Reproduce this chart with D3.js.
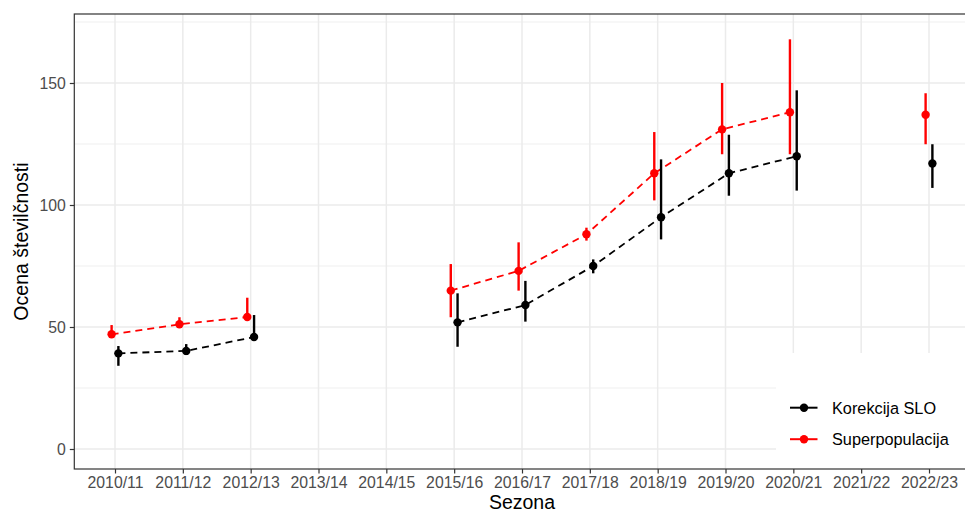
<!DOCTYPE html>
<html>
<head>
<meta charset="utf-8">
<script src="https://cdn.jsdelivr.net/npm/d3@7"></script>
<style>
  html, body { margin: 0; padding: 0; background: #fff; }
  svg { display: block; font-family: "Liberation Sans", Arial, sans-serif; }
</style>
</head>
<body>
<svg id="chart" width="965" height="512"></svg>
<script>
// ---- data ----
const seasons = ["2010/11","2011/12","2012/13","2013/14","2014/15","2015/16","2016/17","2017/18","2018/19","2019/20","2020/21","2021/22","2022/23"];
const seriesNames = ["Korekcija SLO", "Superpopulacija"];
const seriesColors = ["#000000", "#ff0000"];
// Korekcija SLO
const korEst   = [39.2, 40.2, 45.9, null, null, 51.9, 59.0, 75.0, 95.0, 113.0, 120.0, null, 117.0];
const korLow   = [34.1, 38.5, 44.6, null, null, 41.9, 52.2, 72.0, 85.9, 103.8, 105.9, null, 107.0];
const korHigh  = [42.2, 43.0, 54.9, null, null, 63.8, 68.9, 77.7, 118.7, 128.8, 147.0, null, 124.9];
// Superpopulacija
const supEst   = [47.0, 51.1, 54.1, null, null, 64.9, 73.0, 88.0, 113.0, 131.0, 138.0, null, 137.0];
const supLow   = [46.0, 49.8, 53.0, null, null, 54.0, 64.9, 85.4, 101.9, 120.8, 120.8, null, 124.9];
const supHigh  = [50.8, 54.0, 62.0, null, null, 75.8, 84.7, 90.7, 129.9, 150.0, 167.9, null, 145.8];
const yTicks = [0, 50, 100, 150];
const yMinor = [25, 75, 125, 175];

const series = [
  {name: seriesNames[0], color: seriesColors[0], est: korEst, low: korLow, high: korHigh, dodge: 1},
  {name: seriesNames[1], color: seriesColors[1], est: supEst, low: supLow, high: supHigh, dodge: -1}
];

// ---- layout ----
const svg = d3.select("#chart");
const panel = {left: 74.3, right: 969.7, top: 14, bottom: 469};

const x = d3.scalePoint().domain(seasons).range([115, 929]);
const step = x.step();
const dodge = 0.05 * step;
const y = d3.scaleLinear().domain([0, 150]).range([449, 83]);

// panel background
svg.append("rect").attr("x", panel.left).attr("y", panel.top)
  .attr("width", panel.right - panel.left).attr("height", panel.bottom - panel.top)
  .attr("fill", "#fff");

const grid = svg.append("g");
grid.selectAll("line.ymin").data(yMinor).join("line")
  .attr("x1", panel.left).attr("x2", panel.right)
  .attr("y1", d => y(d)).attr("y2", d => y(d))
  .attr("stroke", "#ebebeb").attr("stroke-width", 0.8);
grid.selectAll("line.ymaj").data(yTicks).join("line")
  .attr("x1", panel.left).attr("x2", panel.right)
  .attr("y1", d => y(d)).attr("y2", d => y(d))
  .attr("stroke", "#ebebeb").attr("stroke-width", 1.5);
grid.selectAll("line.xmaj").data(seasons).join("line")
  .attr("x1", d => x(d)).attr("x2", d => x(d))
  .attr("y1", panel.top).attr("y2", panel.bottom)
  .attr("stroke", "#ebebeb").attr("stroke-width", 1.5);

// ---- marks ----
const marks = svg.append("g");
series.forEach(s => {
  const pts = seasons.map((c, i) => ({c, est: s.est[i], low: s.low[i], high: s.high[i]}));
  const line = d3.line()
    .defined(d => d.est !== null)
    .x(d => x(d.c) + s.dodge * dodge)
    .y(d => y(d.est));
  marks.append("path").datum(pts)
    .attr("d", line).attr("fill", "none")
    .attr("stroke", s.color).attr("stroke-width", 1.8)
    .attr("stroke-dasharray", "7,5");
});
series.forEach(s => {
  const pts = seasons.map((c, i) => ({c, est: s.est[i], low: s.low[i], high: s.high[i]}))
    .filter(d => d.est !== null);
  marks.selectAll(null).data(pts).join("line")
    .attr("x1", d => x(d.c) + s.dodge * dodge).attr("x2", d => x(d.c) + s.dodge * dodge)
    .attr("y1", d => y(d.low)).attr("y2", d => y(d.high))
    .attr("stroke", s.color).attr("stroke-width", 2.4);
  marks.selectAll(null).data(pts).join("circle")
    .attr("cx", d => x(d.c) + s.dodge * dodge).attr("cy", d => y(d.est))
    .attr("r", 4.2).attr("fill", s.color);
});

// ---- legend (inside panel, bottom right) ----
const lg = svg.append("g");
lg.append("rect").attr("x", 776).attr("y", 353)
  .attr("width", panel.right - 776).attr("height", panel.bottom - 353)
  .attr("fill", "#fff");
series.forEach((s, i) => {
  const cy = 407.7 + i * 31.5;
  lg.append("line").attr("x1", 790).attr("x2", 817.5).attr("y1", cy).attr("y2", cy)
    .attr("stroke", s.color).attr("stroke-width", 2);
  lg.append("circle").attr("cx", 804).attr("cy", cy).attr("r", 4.2).attr("fill", s.color);
  lg.append("text").attr("x", 832).attr("y", cy + 5.8)
    .attr("font-size", 16.3).attr("fill", "#000").text(s.name);
});

// panel border
svg.append("rect").attr("x", panel.left).attr("y", panel.top)
  .attr("width", panel.right - panel.left).attr("height", panel.bottom - panel.top)
  .attr("fill", "none").attr("stroke", "#333333").attr("stroke-width", 1.2);

// ---- axes ----
const xAxis = svg.append("g").attr("transform", `translate(0,${panel.bottom})`)
  .call(d3.axisBottom(x).tickSize(4.5).tickPadding(3));
xAxis.select(".domain").remove();
xAxis.selectAll(".tick line").attr("stroke", "#333333").attr("stroke-width", 1.2);
xAxis.selectAll(".tick text").attr("fill", "#4d4d4d").attr("font-size", 15.8)
  .attr("font-family", "Liberation Sans, Arial, sans-serif");

const yAxis = svg.append("g").attr("transform", `translate(${panel.left},0)`)
  .call(d3.axisLeft(y).tickValues(yTicks).tickSize(4.5).tickPadding(4));
yAxis.select(".domain").remove();
yAxis.selectAll(".tick line").attr("stroke", "#333333").attr("stroke-width", 1.2);
yAxis.selectAll(".tick text").attr("fill", "#4d4d4d").attr("font-size", 15.8)
  .attr("font-family", "Liberation Sans, Arial, sans-serif");

// axis titles
svg.append("text").attr("x", (panel.left + panel.right) / 2).attr("y", 509)
  .attr("text-anchor", "middle").attr("font-size", 19.5).attr("fill", "#000").text("Sezona");
svg.append("text").attr("transform", `translate(28,${(panel.top + panel.bottom) / 2}) rotate(-90)`)
  .attr("text-anchor", "middle").attr("font-size", 19.5).attr("fill", "#000").text("Ocena številčnosti");
</script>
</body>
</html>
